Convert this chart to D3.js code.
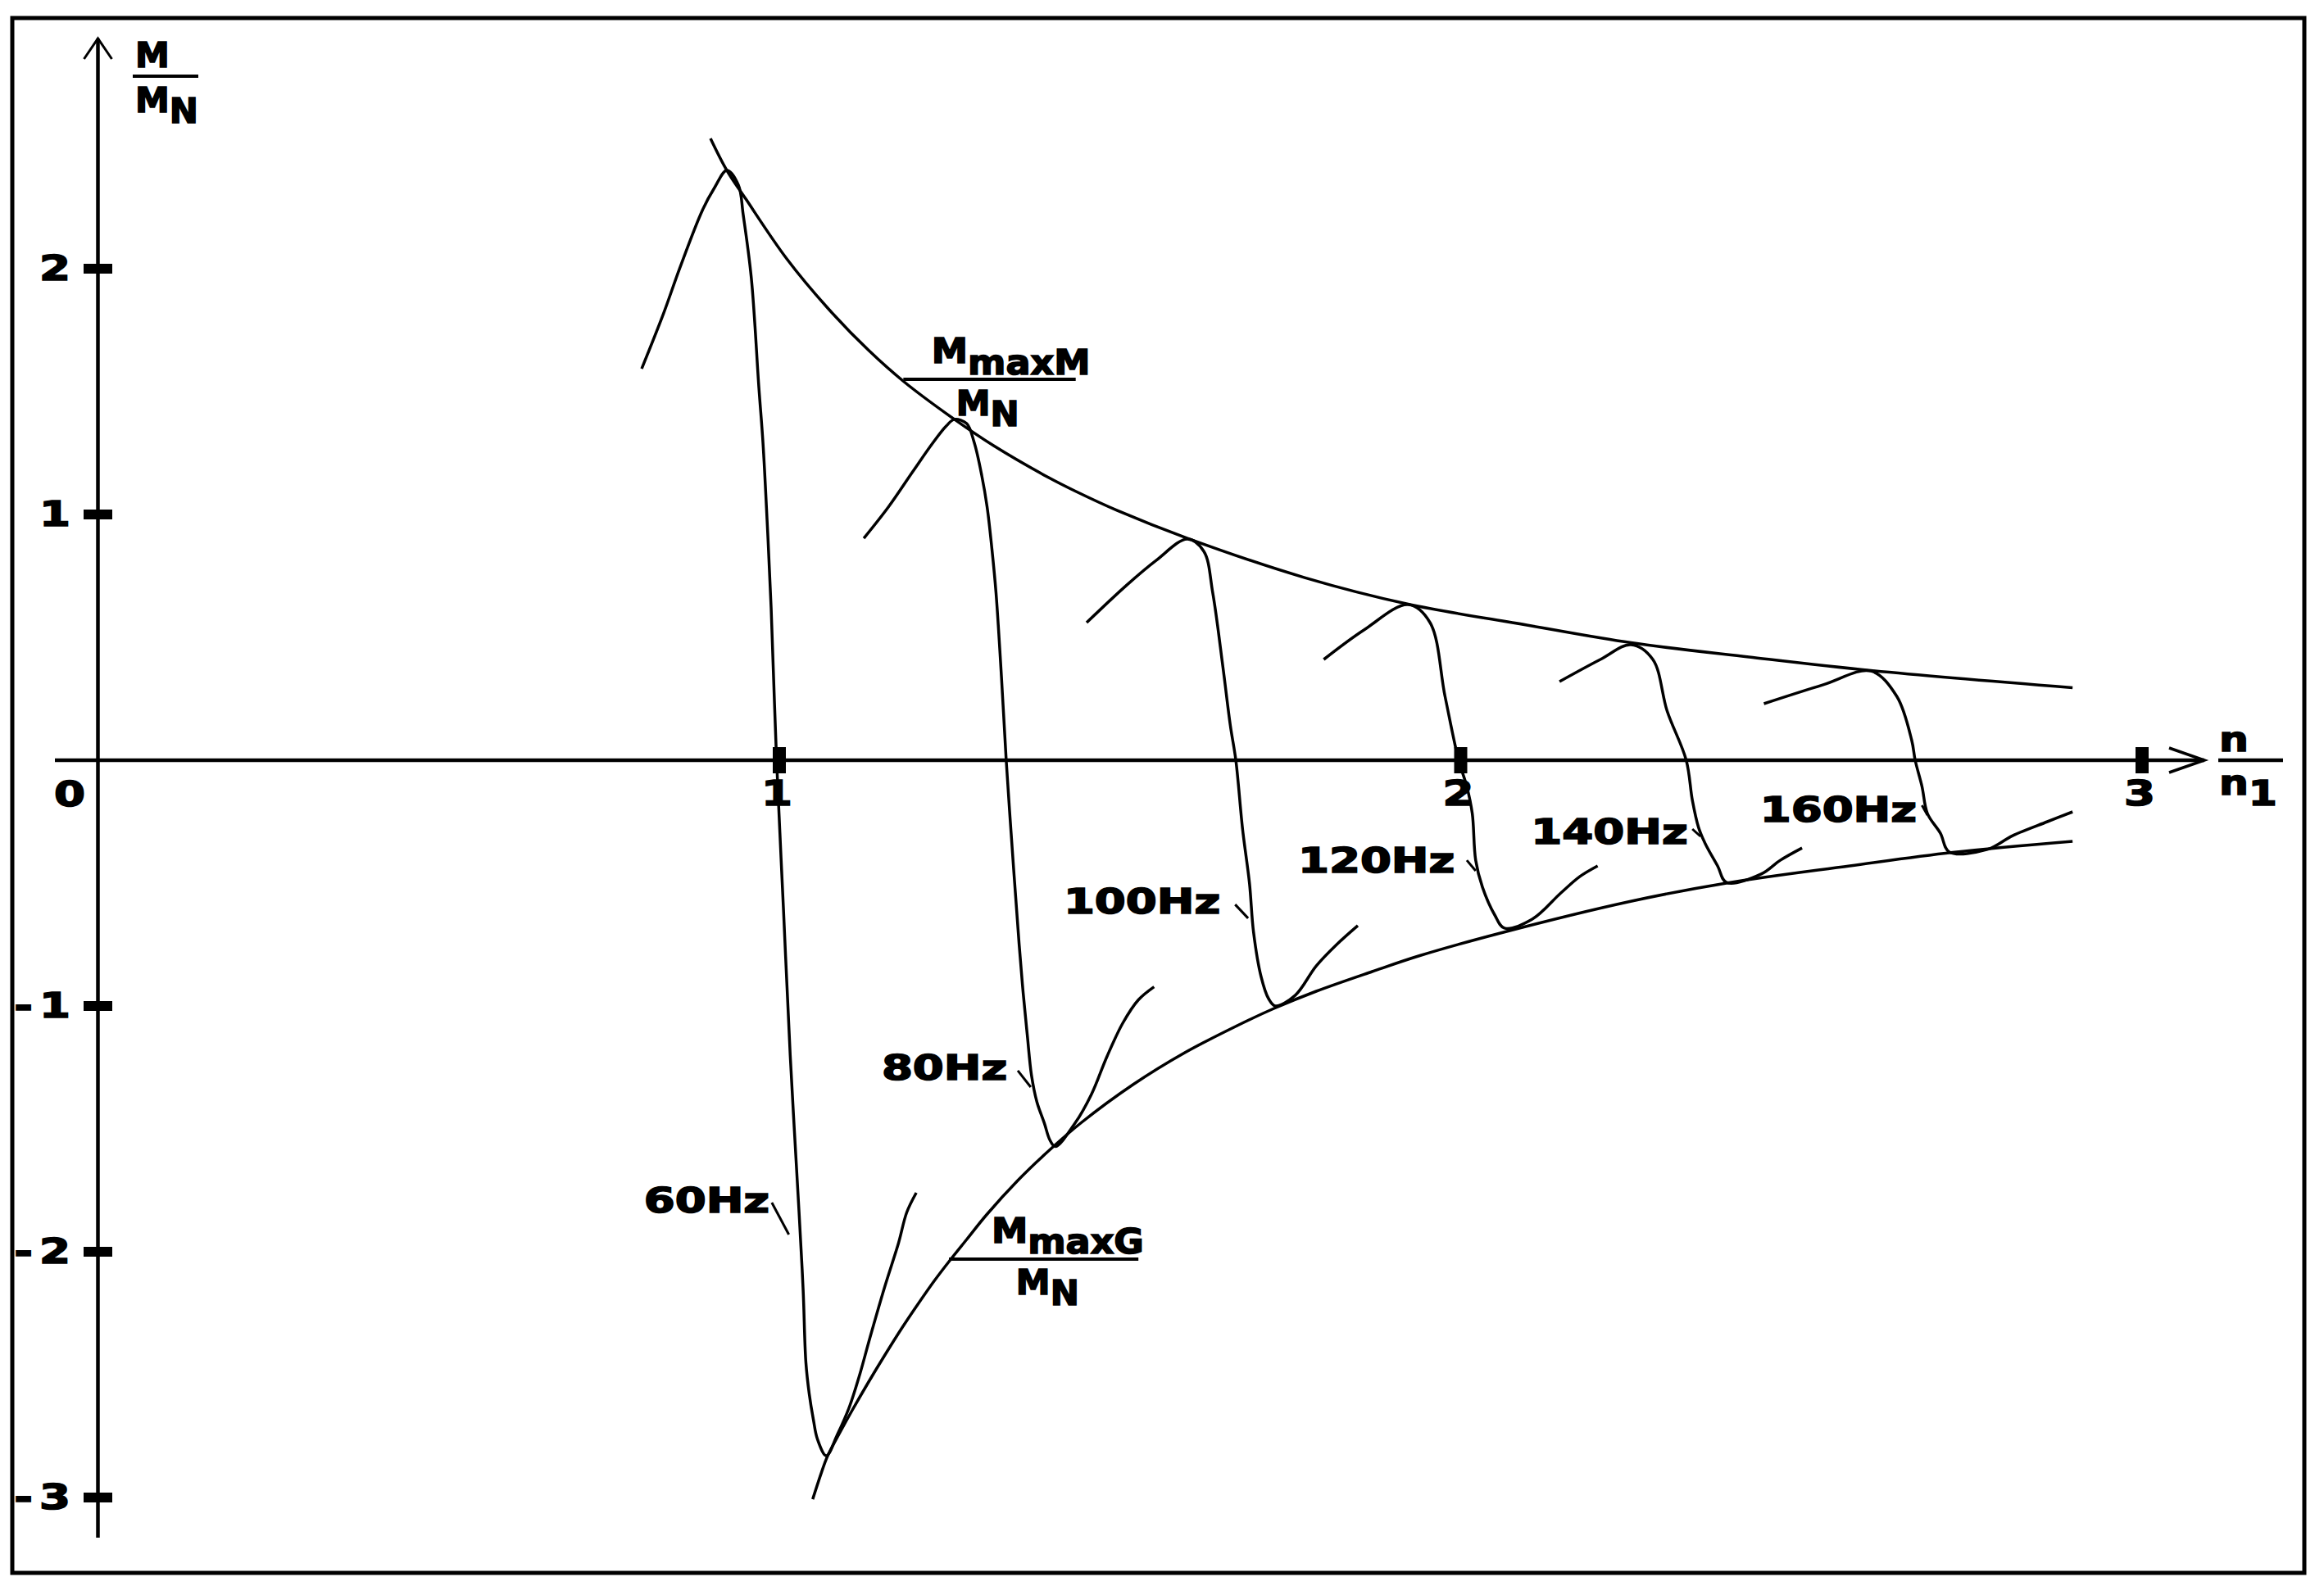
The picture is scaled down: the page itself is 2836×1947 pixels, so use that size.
<!DOCTYPE html>
<html>
<head>
<meta charset="utf-8">
<script src="https://cdn.jsdelivr.net/npm/d3@7"></script>
<style>
  body { margin: 0; background: #fff; }
  svg { display: block; }
</style>
</head>
<body>
<div id="chart"></div>
<script>
// torque / speed curves (x = n/n1, y = M/MN)
const freqLabels = ['60Hz', '80Hz', '100Hz', '120Hz', '140Hz', '160Hz'];

const curve60 = [[0.798,1.593],[0.830,1.817],[0.854,2.003],[0.887,2.237],[0.905,2.33],[0.923,2.40],
  [0.940,2.34],[0.947,2.22],[0.959,1.96],[0.970,1.517],[0.976,1.293],[0.982,0.98],[0.988,0.62],
  [0.996,0],[1.006,-0.6],[1.016,-1.2],[1.029,-1.84],[1.035,-2.157],[1.039,-2.45],[1.044,-2.58],
  [1.050,-2.683],[1.056,-2.763],[1.069,-2.83],[1.085,-2.745],[1.103,-2.63],[1.118,-2.50],
  [1.133,-2.35],[1.155,-2.14],[1.175,-1.964],[1.187,-1.84],[1.201,-1.76]];
const curve80 = [[1.124,0.903],[1.160,1.03],[1.196,1.175],[1.225,1.29],[1.245,1.36],[1.257,1.387],
  [1.275,1.37],[1.286,1.293],[1.297,1.16],[1.305,1.03],[1.312,0.86],[1.318,0.683],[1.326,0.34],
  [1.333,0],[1.343,-0.407],[1.352,-0.75],[1.358,-0.95],[1.364,-1.12],[1.370,-1.28],[1.378,-1.39],
  [1.389,-1.477],[1.397,-1.545],[1.405,-1.572],[1.434,-1.477],[1.458,-1.36],[1.481,-1.205],
  [1.504,-1.07],[1.527,-0.975],[1.550,-0.922]];
const curve100 = [[1.451,0.56],[1.510,0.713],[1.553,0.813],[1.599,0.90],[1.623,0.85],[1.636,0.683],
  [1.651,0.38],[1.662,0.14],[1.670,0],[1.680,-0.283],[1.690,-0.5],[1.696,-0.70],[1.707,-0.88],
  [1.718,-0.97],[1.728,-1.0],[1.757,-0.957],[1.788,-0.837],[1.818,-0.75],[1.849,-0.673]];
const curve120 = [[1.799,0.41],[1.858,0.53],[1.923,0.633],[1.955,0.56],[1.977,0.26],[1.997,0],
  [2.009,-0.107],[2.017,-0.217],[2.022,-0.407],[2.032,-0.517],[2.050,-0.63],[2.064,-0.683],
  [2.105,-0.647],[2.147,-0.54],[2.175,-0.473],[2.201,-0.43]];
const curve140 = [[2.145,0.32],[2.205,0.41],[2.250,0.47],[2.282,0.41],[2.303,0.2],[2.331,0],
  [2.340,-0.163],[2.349,-0.273],[2.359,-0.34],[2.377,-0.43],[2.390,-0.497],[2.441,-0.463],
  [2.469,-0.407],[2.501,-0.357]];
const curve160 = [[2.445,0.23],[2.532,0.307],[2.602,0.363],[2.640,0.26],[2.662,0.08],[2.667,0],
  [2.677,-0.107],[2.685,-0.217],[2.704,-0.297],[2.717,-0.373],[2.773,-0.363],[2.810,-0.307],
  [2.861,-0.25],[2.898,-0.21]];

// M_maxM / M_N and M_maxG / M_N
const upperEnvelope = [[0.899,2.53],[0.923,2.40],[0.951,2.283],[1.011,2.04],[1.071,1.84],[1.131,1.668],
  [1.183,1.54],[1.257,1.387],[1.315,1.279],[1.396,1.149],[1.435,1.094],[1.496,1.016],[1.599,0.903],
  [1.771,0.743],[1.923,0.635],[2.097,0.55],[2.250,0.478],[2.423,0.42],[2.602,0.365],[2.898,0.295]];
const lowerEnvelope = [[1.049,-3.007],[1.062,-2.897],[1.071,-2.83],[1.09,-2.73],[1.107,-2.645],
  [1.131,-2.53],[1.155,-2.42],[1.180,-2.31],[1.203,-2.215],[1.227,-2.12],[1.249,-2.04],
  [1.275,-1.95],[1.304,-1.85],[1.350,-1.71],[1.397,-1.585],[1.443,-1.475],[1.519,-1.32],
  [1.595,-1.19],[1.672,-1.08],[1.726,-1.01],[1.788,-0.94],[1.87,-0.86],[1.940,-0.795],
  [2.056,-0.705],[2.248,-0.575],[2.390,-0.50],[2.571,-0.43],[2.722,-0.375],[2.898,-0.33]];

const xTickValues = [1, 2, 3];
const yTickValues = [2, 1, -1, -2, -3];

const curves = [curve60, curve80, curve100, curve120, curve140, curve160];

// where each frequency label sits (start of text, baseline) and its leader line
const labelAt = [[0.806,-1.84],[1.155,-1.30],[1.422,-0.623],[1.766,-0.457],[2.108,-0.34],[2.444,-0.25]];
const leaders = [
  [[0.989,-1.80],[1.014,-1.93]],
  [[1.350,-1.263],[1.369,-1.330]],
  [[1.669,-0.587],[1.688,-0.643]],
  [[2.009,-0.407],[2.022,-0.45]],
  [[2.340,-0.28],[2.352,-0.31]],
  [[2.677,-0.183],[2.685,-0.223]]
];

const W = 2836, H = 1947;
const x = d3.scaleLinear().domain([0, 3]).range([119.5, 2614]);
const y = d3.scaleLinear().domain([0, 2]).range([928, 328]);

const svg = d3.select('#chart').append('svg')
  .attr('width', W).attr('height', H);

svg.append('rect').attr('width', W).attr('height', H).attr('fill', '#fff');

// frame
svg.append('rect')
  .attr('x', 15).attr('y', 22)
  .attr('width', 2797).attr('height', 1898)
  .attr('fill', 'none').attr('stroke', '#000').attr('stroke-width', 5);

const g = svg.append('g');

// blocky bold text, stretched sideways like the old screen font
function pixText(px, py, parts, anchor, sx) {
  const t = g.append('text')
    .attr('transform', `translate(${px},${py}) scale(${sx || 1.3},1)`)
    .attr('font-family', 'DejaVu Sans, sans-serif')
    .attr('font-weight', 'bold')
    .attr('font-size', 42)
    .attr('text-anchor', anchor || 'start')
    .attr('fill', '#000')
    .attr('stroke', '#000')
    .attr('stroke-width', 1.6);
  parts.forEach(p => t.append('tspan').attr('dy', p[1]).text(p[0]));
  return t;
}

// axes
g.append('line')
  .attr('x1', x(0)).attr('x2', x(0))
  .attr('y1', 47).attr('y2', 1877)
  .attr('stroke', '#000').attr('stroke-width', 4.5);
g.append('line')
  .attr('x1', 67).attr('x2', 2690)
  .attr('y1', y(0)).attr('y2', y(0))
  .attr('stroke', '#000').attr('stroke-width', 4.5);

// open arrow heads
g.append('path')
  .attr('d', `M${x(0) - 17},72 L${x(0)},47 L${x(0) + 17},72`)
  .attr('fill', 'none').attr('stroke', '#000').attr('stroke-width', 3);
g.append('path')
  .attr('d', `M2647,${y(0) - 15} L2690,${y(0)} L2647,${y(0) + 15}`)
  .attr('fill', 'none').attr('stroke', '#000').attr('stroke-width', 3.5);

// tick blocks
g.selectAll('.ytick')
  .data(yTickValues)
  .join('rect')
  .attr('x', x(0) - 17.5).attr('width', 35)
  .attr('y', d => y(d) - 6).attr('height', 12)
  .attr('fill', '#000');
g.selectAll('.xtick')
  .data(xTickValues)
  .join('rect')
  .attr('x', d => x(d) - 8).attr('width', 16)
  .attr('y', y(0) - 16).attr('height', 32)
  .attr('fill', '#000');

// y tick labels: the minus sits apart, hard against the frame
yTickValues.forEach(d => {
  pixText(86, y(d) + 14, [[String(Math.abs(d)), 0]], 'end');
  if (d < 0) pixText(40, y(d) + 14, [['-', 0]], 'end');
});
xTickValues.forEach(d => pixText(x(d) - 3, 983, [[String(d), 0]], 'middle'));
pixText(85, 984, [['0', 0]], 'middle');

// axis titles
pixText(165, 82, [['M', 0]], 'start', 1.0);
g.append('line').attr('x1', 162).attr('x2', 242).attr('y1', 93).attr('y2', 93)
  .attr('stroke', '#000').attr('stroke-width', 4);
pixText(165, 137, [['M', 0], ['N', 13]], 'start', 1.0);

pixText(2708, 917, [['n', 0]], 'start', 1.2);
g.append('line').attr('x1', 2707).attr('x2', 2786).attr('y1', y(0)).attr('y2', y(0))
  .attr('stroke', '#000').attr('stroke-width', 4.5);
pixText(2708, 970, [['n', 0], ['1', 13]], 'start', 1.2);

// curves
const line = d3.line()
  .x(d => x(d[0]))
  .y(d => y(d[1]))
  .curve(d3.curveCatmullRom.alpha(0.5));

g.selectAll('.curve')
  .data(curves)
  .join('path')
  .attr('fill', 'none')
  .attr('stroke', '#000')
  .attr('stroke-width', 3.5)
  .attr('stroke-linejoin', 'round')
  .attr('d', line);

g.append('path').datum(upperEnvelope)
  .attr('fill', 'none').attr('stroke', '#000').attr('stroke-width', 3.5)
  .attr('d', line);
g.append('path').datum(lowerEnvelope)
  .attr('fill', 'none').attr('stroke', '#000').attr('stroke-width', 3.5)
  .attr('d', line);

// frequency labels with leader strokes
freqLabels.forEach((lab, i) => {
  pixText(x(labelAt[i][0]) - 4, y(labelAt[i][1]), [[lab, 0]]);
  const l = leaders[i];
  g.append('line')
    .attr('x1', x(l[0][0])).attr('y1', y(l[0][1]))
    .attr('x2', x(l[1][0])).attr('y2', y(l[1][1]))
    .attr('stroke', '#000').attr('stroke-width', 3);
});

// envelope annotations  M_maxM / M_N  and  M_maxG / M_N
pixText(x(1.227) - 3, y(1.617), [['M', 0], ['maxM', 14]], 'start', 1.06);
g.append('line')
  .attr('x1', x(1.182)).attr('x2', x(1.435))
  .attr('y1', y(1.55)).attr('y2', y(1.55))
  .attr('stroke', '#000').attr('stroke-width', 4);
pixText(x(1.263) - 3, y(1.403), [['M', 0], ['N', 13]], 'start', 1.0);

pixText(x(1.315) - 3, y(-1.963), [['M', 0], ['maxG', 13]], 'start', 1.06);
g.append('line')
  .attr('x1', x(1.249)).attr('x2', x(1.527))
  .attr('y1', y(-2.03)).attr('y2', y(-2.03))
  .attr('stroke', '#000').attr('stroke-width', 4);
pixText(x(1.351) - 3, y(-2.173), [['M', 0], ['N', 13]], 'start', 1.0);
</script>
</body>
</html>
